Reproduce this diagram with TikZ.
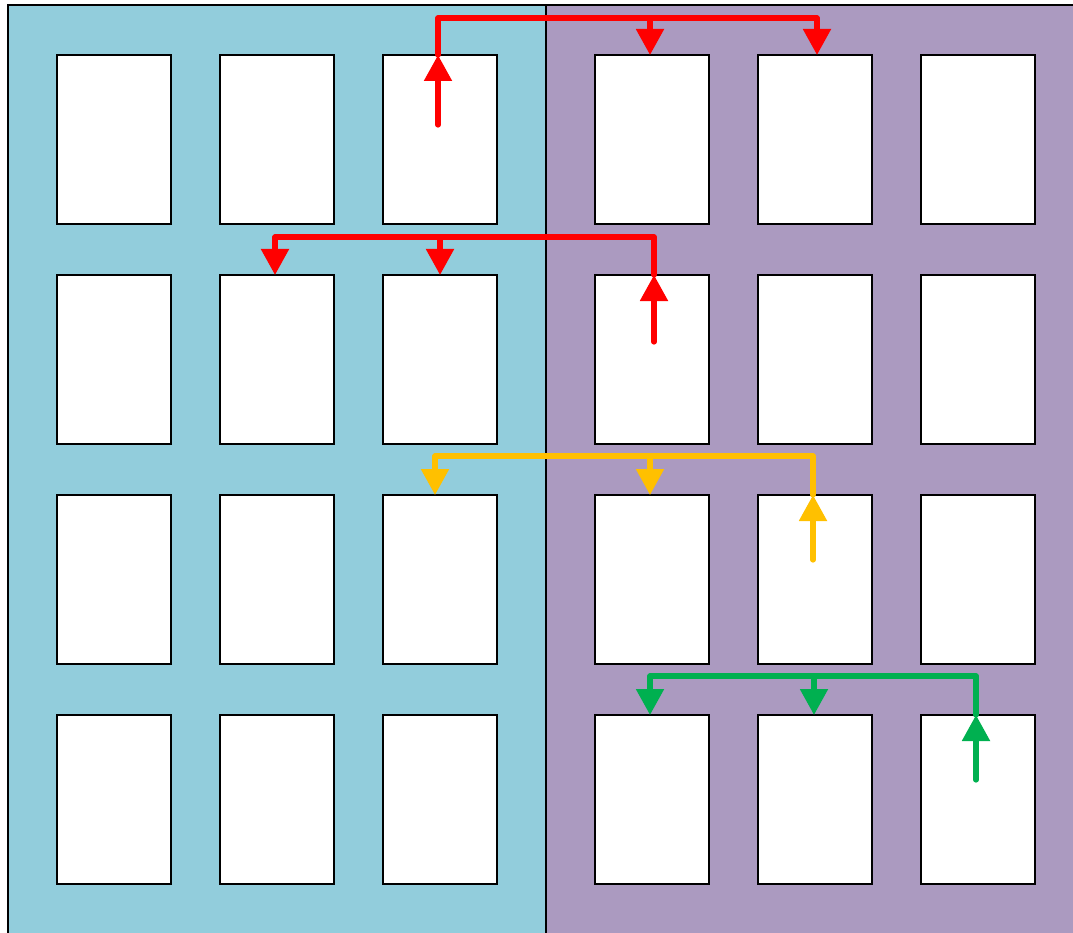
\documentclass[tikz,border=0pt]{standalone}
\usetikzlibrary{arrows.meta}
\definecolor{panelblue}{HTML}{92CDDC}
\definecolor{panelpurple}{HTML}{AB9AC0}
\definecolor{cred}{HTML}{FF0000}
\definecolor{cyellow}{HTML}{FFC000}
\definecolor{cgreen}{HTML}{00B050}
\tikzset{
  box/.style={draw=black, line width=1.5pt, fill=white, minimum width=114pt, minimum height=169pt, inner sep=0pt, outer sep=0pt},
  conn/.style={line width=5.2pt, line cap=round, line join=round},
  tip/.style={-{Triangle[length=26pt,width=27pt]}},
}
\begin{document}
\begin{tikzpicture}[x=1pt,y=-1pt]
\useasboundingbox (0,0) rectangle (1073,933);
\clip (0,0) rectangle (1073,933);
\fill[panelblue] (8,5) rectangle (546,945);
\fill[panelpurple] (546,5) rectangle (1085,945);
\draw[line width=1.5pt] (8,945) -- (8,5) -- (1085,5);
\draw[line width=1.5pt] (546,5) -- (546,945);
% boxes
\foreach \r/\y in {1/139.5,2/359.5,3/579.5,4/799.5}{
  \foreach \c/\x in {1/114,2/277,3/440,4/652,5/815,6/978}{
    \node[box] (b\r\c) at (\x,\y) {};
  }
}
% red 1
\coordinate (r1s) at (438,125);
\coordinate (r1h) at (438,18);
\coordinate (r1e) at (817,18);
\coordinate (r1m) at (650,18);
\draw[conn, draw=cred] (r1s |- b13.north) -- (r1h) -- (r1e);
\draw[conn, draw=cred, tip, fill=cred] (r1s) -- (r1s |- b13.north);
\draw[conn, draw=cred, tip, fill=cred] (r1m) -- (r1m |- b14.north);
\draw[conn, draw=cred, tip, fill=cred] (r1e) -- (r1e |- b15.north);
% red 2
\coordinate (r2s) at (654,342);
\coordinate (r2h) at (654,237);
\coordinate (r2e) at (275,237);
\coordinate (r2m) at (440,237);
\draw[conn, draw=cred] (r2s |- b24.north) -- (r2h) -- (r2e);
\draw[conn, draw=cred, tip, fill=cred] (r2s) -- (r2s |- b24.north);
\draw[conn, draw=cred, tip, fill=cred] (r2m) -- (r2m |- b23.north);
\draw[conn, draw=cred, tip, fill=cred] (r2e) -- (r2e |- b22.north);
% yellow
\coordinate (ys) at (813,560);
\coordinate (yh) at (813,456);
\coordinate (ye) at (435,456);
\coordinate (ym) at (650,456);
\draw[conn, draw=cyellow] (ys |- b35.north) -- (yh) -- (ye);
\draw[conn, draw=cyellow, tip, fill=cyellow] (ys) -- (ys |- b35.north);
\draw[conn, draw=cyellow, tip, fill=cyellow] (ym) -- (ym |- b34.north);
\draw[conn, draw=cyellow, tip, fill=cyellow] (ye) -- (ye |- b33.north);
% green
\coordinate (gs) at (976,780);
\coordinate (gh) at (976,676);
\coordinate (ge) at (650,676);
\coordinate (gm) at (814,676);
\draw[conn, draw=cgreen] (gs |- b46.north) -- (gh) -- (ge);
\draw[conn, draw=cgreen, tip, fill=cgreen] (gs) -- (gs |- b46.north);
\draw[conn, draw=cgreen, tip, fill=cgreen] (gm) -- (gm |- b45.north);
\draw[conn, draw=cgreen, tip, fill=cgreen] (ge) -- (ge |- b44.north);
\end{tikzpicture}
\end{document}
